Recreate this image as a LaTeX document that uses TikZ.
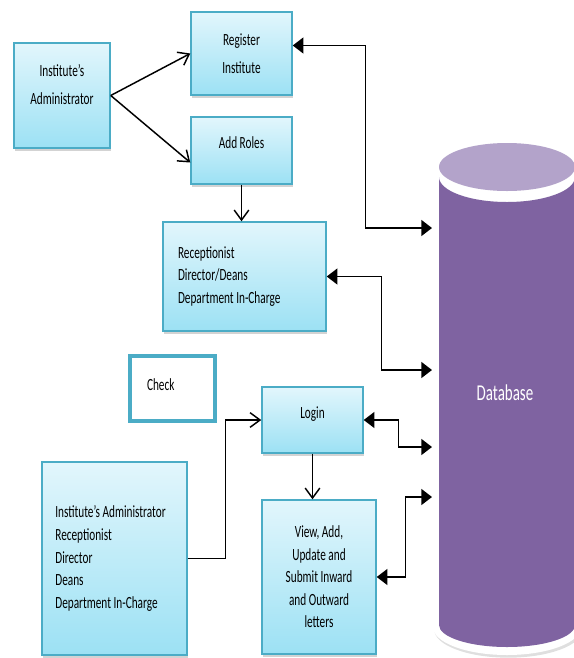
\documentclass[tikz,border=0pt]{standalone}
\usepackage{fontspec}
\setmainfont{Carlito}[FakeStretch=0.66]
\usepackage{xcolor}
\usepackage{tikz}
\usetikzlibrary{arrows.meta}
\usetikzlibrary{shadows}
\definecolor{boxrand}{HTML}{4BACC6}
\definecolor{boxoben}{HTML}{E2F6FC}
\definecolor{boxunten}{HTML}{9CE1F4}
\definecolor{dbdunkel}{HTML}{7F63A1}
\definecolor{dbhell}{HTML}{B3A3CA}
\tikzset{
  Kasten/.style={draw=boxrand, line width=1.1pt, top color=boxoben, bottom color=boxunten,
    drop shadow={shadow xshift=1pt,shadow yshift=-2pt,opacity=0.35},
    align=center, inner sep=0pt, font=\fontsize{12.8}{16.9}\selectfont}, % Kaesten
  Pruefen/.style={draw=boxrand, line width=3.2pt, fill=white,
    drop shadow={shadow xshift=1pt,shadow yshift=-1pt,opacity=0.25},
    align=flush left, inner sep=0pt, font=\fontsize{12.8}{16.9}\selectfont},
  Pfeil/.style={line width=1.1pt,->}, % offene Pfeile
  DBPfeil/.style={line width=1.1pt,{Triangle[length=8pt,width=12pt]}-{Triangle[length=8pt,width=12pt]}} % zur Datenbank
}

\begin{document}
\begin{tikzpicture}[
x=0.75pt, y=-0.75pt,
>={Straight Barb[length=7.5pt,width=11pt]} % Voreinstellung fuer Pfeilspitzen
]
\useasboundingbox (0,0) rectangle (574,658);
\clip (0,0) rectangle (574,658);

%Datenbank
\fill[white, drop shadow={shadow xshift=1pt,shadow yshift=-2pt,opacity=0.25}]
  (433,167) -- (433,627) arc[start angle=180,end angle=0,x radius=74,y radius=28]
  -- (581,167) arc[start angle=0,end angle=-180,x radius=74,y radius=30] -- cycle;
\fill[dbhell] (507,167) ellipse[x radius=68, y radius=24];
\fill[dbdunkel] (439,177) -- (439,625) arc[start angle=180,end angle=0,x radius=68,y radius=22]
  -- (575,177) arc[start angle=0,end angle=180,x radius=68,y radius=25] -- cycle;
\node[text=white, font=\fontsize{17}{20}\selectfont] (db) at (505,393) {Database};
\coordinate (db1) at (432,228);
\coordinate (db2) at (432,370);
\coordinate (db3) at (432,447);
\coordinate (db4) at (432,497);

%Kaesten
\node[Kasten, minimum width=72pt, minimum height=78.75pt, text depth=17pt] (admin) at (62,95.5) {Institute’s\\[4pt]Administrator};
\node[Kasten, minimum width=75.75pt, minimum height=62.25pt] (reg) at (241.5,53.5) {Register\\[4pt]Institute};
\node[Kasten, minimum width=75.75pt, minimum height=50.25pt, text depth=12pt] (roles) at (241.5,150.5) {Add Roles};
\node[Kasten, align=flush left, text width=99.75pt, minimum width=122.25pt, minimum height=81.75pt] (recep) at (244.5,276.5)
  {Receptionist\\Director/Deans\\Department In-Charge};
\node[Pruefen, text width=38.25pt, minimum width=63.75pt, minimum height=48.75pt, text depth=6pt] (chk) at (172.5,388.5) {Check};
\node[Kasten, minimum width=75.75pt, minimum height=49.5pt, text depth=10.5pt] (login) at (312.5,420) {Login};
\node[Kasten, minimum width=85.5pt, minimum height=115.5pt] (view) at (319,577)
  {View, Add,\\Update and\\Submit Inward\\and Outward\\letters};
\node[Kasten, align=flush left, text width=88.75pt, minimum width=108.75pt, minimum height=144.75pt] (nutzer) at (114.5,558.5)
  {Institute’s Administrator\\Receptionist\\Director\\Deans\\Department In-Charge};

%Pfeile
\draw[Pfeil] (admin.east) -- (reg.west);
\draw[Pfeil] (admin.east) -- ([yshift=-9pt]roles.west);
\draw[Pfeil] (roles.south) -- (roles.south |- recep.north);
\draw[Pfeil] (nutzer.east) -- ++(38,0) |- (login.west);
\draw[Pfeil] (login.south) -- (login.south |- view.north);

%Verbindungen zur Datenbank
\draw[DBPfeil] ([yshift=6pt]reg.east) -- ++(73,0) |- (db1);
\draw[DBPfeil] (recep.east) -- ++(55,0) |- (db2);
\draw[DBPfeil] (login.east) -- ++(35,0) |- (db3);
\draw[DBPfeil] (view.east) -- ++(29,0) |- (db4);

\end{tikzpicture}
\end{document}
